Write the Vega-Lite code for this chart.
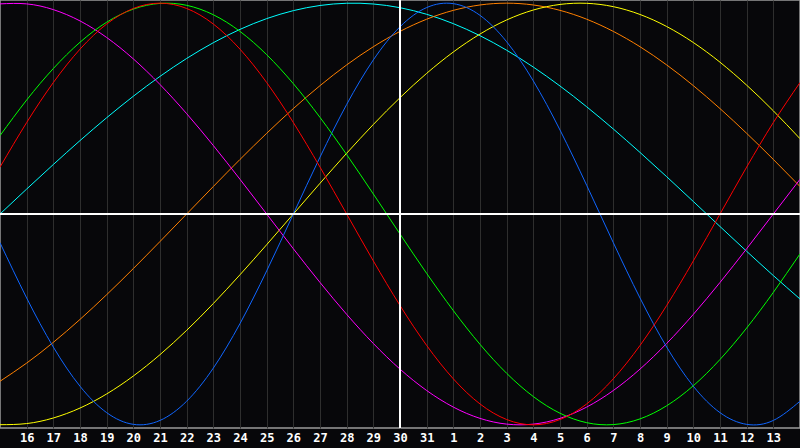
{
  "$schema": "https://vega.github.io/schema/vega-lite/v6.json",
  "width": 800,
  "height": 428,
  "autosize": "none",
  "padding": {"left": 0, "right": 0, "top": 0, "bottom": 20},
  "background": "#07070a",
  "view": {"stroke": "#9a9a9a", "strokeWidth": 1.5, "fill": "#07070a"},
  "config": {"axis": {"labelOverlap": false, "labelBound": false, "labelFlush": false}},
  "data": {"values": [
    {"t":0,"Physical":-0.1362,"Emotional":0.2225,"Intellectual":0.3717,"Intuition":0.9966,"Aesthetic":-0.9993,"Awareness":-0.7934,"Spiritual":0.0000},
    {"t":1,"Physical":-0.3984,"Emotional":0.4339,"Intellectual":0.5407,"Intuition":0.9966,"Aesthetic":-0.9940,"Awareness":-0.7071,"Spiritual":0.1183},
    {"t":2,"Physical":-0.6311,"Emotional":0.6235,"Intellectual":0.6900,"Intuition":0.9694,"Aesthetic":-0.9675,"Awareness":-0.6088,"Spiritual":0.2348},
    {"t":3,"Physical":-0.8169,"Emotional":0.7818,"Intellectual":0.8146,"Intuition":0.9158,"Aesthetic":-0.9204,"Awareness":-0.5000,"Spiritual":0.3482},
    {"t":4,"Physical":-0.9422,"Emotional":0.9010,"Intellectual":0.9096,"Intuition":0.8372,"Aesthetic":-0.8535,"Awareness":-0.3827,"Spiritual":0.4566},
    {"t":5,"Physical":-0.9977,"Emotional":0.9749,"Intellectual":0.9718,"Intuition":0.7357,"Aesthetic":-0.7684,"Awareness":-0.2588,"Spiritual":0.5585},
    {"t":6,"Physical":-0.9791,"Emotional":1.0000,"Intellectual":0.9989,"Intuition":0.6142,"Aesthetic":-0.6671,"Awareness":-0.1305,"Spiritual":0.6528},
    {"t":7,"Physical":-0.8879,"Emotional":0.9749,"Intellectual":0.9898,"Intuition":0.4759,"Aesthetic":-0.5518,"Awareness":0.0000,"Spiritual":0.7378},
    {"t":8,"Physical":-0.7308,"Emotional":0.9010,"Intellectual":0.9450,"Intuition":0.3247,"Aesthetic":-0.4246,"Awareness":0.1305,"Spiritual":0.8125},
    {"t":9,"Physical":-0.5196,"Emotional":0.7818,"Intellectual":0.8660,"Intuition":0.1646,"Aesthetic":-0.2881,"Awareness":0.2588,"Spiritual":0.8757},
    {"t":10,"Physical":-0.2698,"Emotional":0.6235,"Intellectual":0.7557,"Intuition":0.0000,"Aesthetic":-0.1456,"Awareness":0.3827,"Spiritual":0.9267},
    {"t":11,"Physical":0.0000,"Emotional":0.4339,"Intellectual":0.6182,"Intuition":-0.1646,"Aesthetic":0.0000,"Awareness":0.5000,"Spiritual":0.9646},
    {"t":12,"Physical":0.2698,"Emotional":0.2225,"Intellectual":0.4582,"Intuition":-0.3247,"Aesthetic":0.1456,"Awareness":0.6088,"Spiritual":0.9890},
    {"t":13,"Physical":0.5196,"Emotional":0.0000,"Intellectual":0.2817,"Intuition":-0.4759,"Aesthetic":0.2881,"Awareness":0.7071,"Spiritual":0.9996},
    {"t":14,"Physical":0.7308,"Emotional":-0.2225,"Intellectual":0.0950,"Intuition":-0.6142,"Aesthetic":0.4246,"Awareness":0.7934,"Spiritual":0.9961},
    {"t":15,"Physical":0.8879,"Emotional":-0.4339,"Intellectual":-0.0950,"Intuition":-0.7357,"Aesthetic":0.5518,"Awareness":0.8660,"Spiritual":0.9785},
    {"t":16,"Physical":0.9791,"Emotional":-0.6235,"Intellectual":-0.2817,"Intuition":-0.8372,"Aesthetic":0.6671,"Awareness":0.9239,"Spiritual":0.9473},
    {"t":17,"Physical":0.9977,"Emotional":-0.7818,"Intellectual":-0.4582,"Intuition":-0.9158,"Aesthetic":0.7684,"Awareness":0.9659,"Spiritual":0.9028},
    {"t":18,"Physical":0.9422,"Emotional":-0.9010,"Intellectual":-0.6182,"Intuition":-0.9694,"Aesthetic":0.8535,"Awareness":0.9914,"Spiritual":0.8457},
    {"t":19,"Physical":0.8169,"Emotional":-0.9749,"Intellectual":-0.7557,"Intuition":-0.9966,"Aesthetic":0.9204,"Awareness":1.0000,"Spiritual":0.7767},
    {"t":20,"Physical":0.6311,"Emotional":-1.0000,"Intellectual":-0.8660,"Intuition":-0.9966,"Aesthetic":0.9675,"Awareness":0.9914,"Spiritual":0.6968},
    {"t":21,"Physical":0.3984,"Emotional":-0.9749,"Intellectual":-0.9450,"Intuition":-0.9694,"Aesthetic":0.9940,"Awareness":0.9659,"Spiritual":0.6071},
    {"t":22,"Physical":0.1362,"Emotional":-0.9010,"Intellectual":-0.9898,"Intuition":-0.9158,"Aesthetic":0.9993,"Awareness":0.9239,"Spiritual":0.5086},
    {"t":23,"Physical":-0.1362,"Emotional":-0.7818,"Intellectual":-0.9989,"Intuition":-0.8372,"Aesthetic":0.9834,"Awareness":0.8660,"Spiritual":0.4031},
    {"t":24,"Physical":-0.3984,"Emotional":-0.6235,"Intellectual":-0.9718,"Intuition":-0.7357,"Aesthetic":0.9464,"Awareness":0.7934,"Spiritual":0.2920},
    {"t":25,"Physical":-0.6311,"Emotional":-0.4339,"Intellectual":-0.9096,"Intuition":-0.6142,"Aesthetic":0.8893,"Awareness":0.7071,"Spiritual":0.1769},
    {"t":26,"Physical":-0.8169,"Emotional":-0.2225,"Intellectual":-0.8146,"Intuition":-0.4759,"Aesthetic":0.8133,"Awareness":0.6088,"Spiritual":0.0593},
    {"t":27,"Physical":-0.9422,"Emotional":0.0000,"Intellectual":-0.6900,"Intuition":-0.3247,"Aesthetic":0.7199,"Awareness":0.5000,"Spiritual":-0.0593},
    {"t":28,"Physical":-0.9977,"Emotional":0.2225,"Intellectual":-0.5407,"Intuition":-0.1646,"Aesthetic":0.6110,"Awareness":0.3827,"Spiritual":-0.1769},
    {"t":29,"Physical":-0.9791,"Emotional":0.4339,"Intellectual":-0.3717,"Intuition":0.0000,"Aesthetic":0.4894,"Awareness":0.2588,"Spiritual":-0.2920},
    {"t":30,"Physical":-0.8879,"Emotional":0.6235,"Intellectual":-0.1893,"Intuition":0.1646,"Aesthetic":0.3572,"Awareness":0.1305,"Spiritual":-0.4031}
  ]},
  "layer": [
    {
      "transform": [{"fold": ["Spiritual", "Awareness", "Aesthetic", "Intuition", "Physical", "Intellectual", "Emotional"], "as": ["cycle", "v"]}],
      "mark": {"type": "line", "strokeWidth": 1, "interpolate": "natural", "clip": true},
      "encoding": {
        "x": {
          "field": "t", "type": "quantitative",
          "scale": {"domain": [0, 30], "nice": false, "zero": false},
          "axis": {
            "title": null,
            "values": [1,2,3,4,5,6,7,8,9,10,11,12,13,14,15,16,17,18,19,20,21,22,23,24,25,26,27,28,29],
            "labelExpr": "datum.value + 15 > 31 ? datum.value - 16 : datum.value + 15",
            "labelOverlap": false,
            "labelSeparation": 0,
            "domain": false,
            "ticks": false,
            "grid": true,
            "gridColor": "#2e2e2e",
            "gridWidth": 1,
            "gridOpacity": 1,
            "labelColor": "#ffffff",
            "labelFont": "DejaVu Sans Mono",
            "labelFontWeight": "bold",
            "labelFontSize": 12,
            "labelPadding": 4,
            "labelFlush": false
          }
        },
        "y": {
          "field": "v", "type": "quantitative",
          "scale": {"domain": [-1.015, 1.015], "nice": false, "zero": false},
          "axis": null
        },
        "color": {
          "field": "cycle", "type": "nominal",
          "scale": {
            "domain": ["Physical", "Emotional", "Intellectual", "Intuition", "Aesthetic", "Awareness", "Spiritual"],
            "range": ["#1066ff", "#ff0000", "#00ff00", "#ff00ff", "#ffff00", "#ff8000", "#00ffff"]
          },
          "legend": null
        }
      }
    },
    {
      "mark": {"type": "rule", "color": "#ffffff", "strokeWidth": 1.5},
      "encoding": {
        "x": {
          "datum": 15, "type": "quantitative",
          "axis": {
            "title": null,
            "values": [1,2,3,4,5,6,7,8,9,10,11,12,13,14,15,16,17,18,19,20,21,22,23,24,25,26,27,28,29],
            "labelExpr": "datum.value + 15 > 31 ? datum.value - 16 : datum.value + 15",
            "labelOverlap": false,
            "labelSeparation": 0,
            "domain": false,
            "ticks": false,
            "grid": true,
            "gridColor": "#2e2e2e",
            "gridWidth": 1,
            "gridOpacity": 1,
            "labelColor": "#ffffff",
            "labelFont": "DejaVu Sans Mono",
            "labelFontWeight": "bold",
            "labelFontSize": 12,
            "labelPadding": 4,
            "labelFlush": false
          }
        }
      }
    },
    {
      "mark": {"type": "rule", "color": "#ffffff", "strokeWidth": 1.5},
      "encoding": {"y": {"datum": 0, "type": "quantitative", "axis": null}}
    }
  ]
}
